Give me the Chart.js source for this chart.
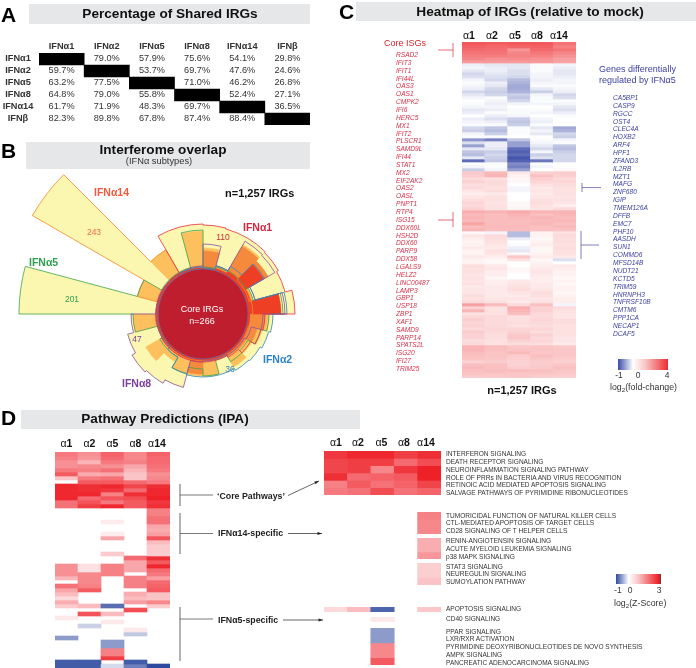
<!DOCTYPE html>
<html>
<head>
<meta charset="utf-8">
<title>IFN subtypes</title>
<script src="https://cdn.jsdelivr.net/npm/chart.js@4/dist/chart.umd.min.js"></script>
<style>
  html, body { margin: 0; padding: 0; background: #fff; }
  #page { position: relative; width: 696px; height: 668px; overflow: hidden; font-family: "Liberation Sans", Arial, sans-serif; color: #222; }
  #page canvas { position: absolute; }
  #page svg { position: absolute; left: 0; top: 0; }
  .t { position: absolute; white-space: nowrap; line-height: 1; }
  .bar { position: absolute; background: #e6e7e8; }
  .grad { position: absolute; }
  sub { font-size: 70%; line-height: 0; }
</style>
</head>
<body>
<div id="page">
  <div class="bar" style="left:29px;top:4px;width:281px;height:20px"></div>
  <div class="bar" style="left:26px;top:142px;width:284px;height:27px"></div>
  <div class="bar" style="left:356px;top:2px;width:340px;height:19px"></div>
  <div class="bar" style="left:21px;top:410px;width:339px;height:19px"></div>
  <div class="grad" style="left:618px;top:359px;width:50px;height:11px;background:linear-gradient(90deg,#3b4ba8 0%,#fff 30%,#f9c4c4 55%,#ee2b2f 100%)"></div>
  <div class="grad" style="left:616px;top:574px;width:45px;height:10px;background:linear-gradient(90deg,#2e4a9e 0%,#fff 28%,#f9c4c4 50%,#ee1c24 96%,#444 100%)"></div>
</div>
<script>
// --- A: shared IRGs ---
const subtypes = ["IFNα1", "IFNα2", "IFNα5", "IFNα8", "IFNα14", "IFNβ"];
const sharedPct = [
  [null, "79.0%", "57.9%", "75.6%", "54.1%", "29.8%"],
  ["59.7%", null, "53.7%", "69.7%", "47.6%", "24.6%"],
  ["63.2%", "77.5%", null, "71.0%", "46.2%", "26.8%"],
  ["64.8%", "79.0%", "55.8%", null, "52.4%", "27.1%"],
  ["61.7%", "71.9%", "48.3%", "69.7%", null, "36.5%"],
  ["82.3%", "89.8%", "67.8%", "87.4%", "88.4%", null]
];

// --- B: interferome overlap, radius per 15 degree sector, clockwise from top ---
const sectors = ["0", "15", "30", "45", "60", "75", "90", "105", "120", "135", "150", "165", "180", "195", "210", "225", "240", "255", "270", "285", "300", "315", "330", "345"];
const coreRadius = [45];
const coreRing = [45, 45, 45, 45, 45, 45, 45, 45, 45, 45, 45, 45, 45, 45, 45, 45, 45, 45, 45, 45, 45, 45, 45, 45];
const fourShared = [47, 47, 50, 70, 49, 78, 47, 47, 47, 47, 47, 47, 47, 47, 47, 47, 47, 47, 47, 47, 47, 47, 47, 47];
const threeShared = [63, 48, 78, 75, 50, 62, 62, 56, 50, 49, 47, 47, 60, 48, 48, 48, 47, 48, 47, 48, 47, 48, 47, 48];
const twoShared = [66, 50, 80, 75, 52, 75, 66, 61, 56, 61, 48, 62, 62, 62, 55, 66, 47, 70, 47, 68, 47, 74, 48, 83];
const oneOnly = [89, 88, 88, 87, 85, 92, 70, 68, 66, 65, 63, 63, 63, 76, 80, 82, 78, 72, 184, 68, 197, 74, 90, 90];
const outlineA1 = [89, 88, 88, 87, 85, 92, 62, 60, 55, 50, 48, 48, 48, 48, 48, 48, 47, 47, 47, 47, 47, 47, 90, 90];
const outlineA2 = [46, 50, 55, 71, 54, 84, 70, 68, 66, 65, 63, 63, 63, 62, 50, 47, 47, 47, 47, 47, 47, 47, 47, 47];
const outlineA5 = [47, 49, 50, 50, 52, 80, 66, 60, 52, 55, 48, 62, 55, 62, 50, 50, 47, 70, 184, 68, 48, 48, 48, 84];
const outlineA8 = [70, 50, 84, 83, 54, 82, 60, 50, 48, 48, 47, 47, 48, 76, 80, 82, 78, 72, 47, 47, 47, 47, 47, 48];
const outlineA14 = [47, 49, 50, 48, 48, 50, 48, 47, 47, 47, 47, 47, 47, 47, 47, 47, 47, 47, 47, 68, 197, 74, 48, 47];

// --- C: IRG heatmap, log2 fold-change, 5 columns ---
const coreIsgs = ["RSAD2", "IFIT3", "IFIT1", "IFI44L", "OAS3", "OAS1", "CMPK2", "IFI6", "HERC5", "MX1", "IFIT2", "PLSCR1", "SAMD9L", "IFI44", "STAT1", "MX2", "EIF2AK2", "OAS2", "OASL", "PNPT1", "RTP4", "ISG15", "DDX60L", "HSH2D", "DDX60", "PARP9", "DDX58", "LGALS9", "HELZ2", "LINC00487", "LAMP3", "GBP1", "USP18", "ZBP1", "XAF1", "SAMD9", "PARP14", "SPATS2L", "ISG20", "IFI27", "TRIM25"];
const a5Genes = ["CA5BP1", "CASP9", "RGCC", "OST4", "CLEC4A", "HOXB2", "ARF4", "HPF1", "ZFAND3", "IL2RB", "MZT1", "MAFG", "ZNF680", "IGIP", "TMEM126A", "DFFB", "EMC7", "PHF10", "AASDH", "SUN1", "COMMD6", "MFSD14B", "NUDT21", "KCTD5", "TRIM59", "HNRNPH3", "TNFRSF10B", "CMTM6", "PPP1CA", "NECAP1", "DCAF5"];
const irgRows = [
  [2.9,2.8,2.9,2.9,2.3],[2.7,2.5,2.6,2.7,2.0],[2.5,2.4,1.6,2.5,2.3],[2.3,2.3,1.9,2.2,1.9],[2.1,2.1,2.0,2.0,1.7],[1.9,1.7,1.8,1.7,1.4],[1.5,1.5,1.5,1.5,1.3],
  [-.15,-.2,-.2,-.05,-.1],[-.1,-.15,-.2,-.05,-.15],[-.2,-.15,-.25,-.05,-.2],[-.3,-.2,-.25,-.1,-.2],[-.25,-.25,-.3,-.1,-.15],[-.1,-.3,-.45,-.15,-.1],[-.05,-.15,-.5,-.1,-.1],[-.1,-.2,-.55,-.05,-.05],
  [-.15,-.3,-.55,-.2,-.1],[-.3,-.35,-.5,-.35,-.15],[-.2,-.3,-.35,-.1,-.3],[-.1,-.05,-.4,-.05,-.25],[0,-.1,-.3,-.05,-.05],[-.05,-.15,-.1,-.1,-.1],[-.1,-.1,0,0,-.2],[-.2,-.15,-.05,-.05,-.25],
  [-.15,-.05,-.05,-.1,-.15],[0,-.15,-.1,0,-.05],[-.15,-.25,-.35,-.1,0],[-.1,-.15,-.4,-.15,0],[-.05,-.05,-.35,-.05,0],[-.3,-.4,-.05,-.2,-.55],[-.35,-.45,-.05,-.1,-.5],[-.1,-.35,-.05,-.2,-.3],
  [-.05,-.05,0,0,-.35],[-.65,-.75,-.4,-.05,-.1],[-.25,-.15,-.6,-.1,-.05],[-.6,-.15,-.6,-.2,-.4],[-.2,-.2,-.85,-.3,-.45],[-.4,-.35,-.9,-.1,-.35],[-.45,-.3,-.85,-.35,-.3],[-.2,-.35,-.95,-.25,-.3],
  [-.85,-.4,-.9,-.8,-.3],[0,-.05,-.7,-.05,0],[-.1,-.05,-.75,-.1,0],[-.35,-.1,-.6,0,.05],
  [.65,.9,.2,.5,.6],[.6,1.0,.1,.8,.55],[.4,.3,.05,.55,.4],[.5,.4,.05,.45,.45],[.35,.35,0,.3,.35],[.4,.3,-.1,.2,.3],[.25,.35,-.1,.25,.3],[.15,.2,0,.2,.3],[.25,.3,0,.25,.25],[.35,.3,0,.3,.3],[.45,.25,.05,.35,.25],[.4,.3,.05,.3,.15],[.5,.3,.1,.25,.4],
  [1.1,1.0,1.2,1.0,1.0],[.9,.85,1.0,.8,.95],[1.0,.85,.9,1.0,.85],[.9,.85,.85,.9,.95],[1.3,.85,.85,.95,.8],[.85,.9,.9,.8,.9],[1.0,.85,.85,.8,.75],
  [.05,-.1,-.45,.1,.3],[.25,.4,-.45,.1,.4],[.15,.35,-.15,.05,.35],[.1,.3,0,.1,.35],[.1,.25,-.05,.15,.3],[.2,.2,-.15,.05,.35],[.1,.3,-.2,.05,.3],[.1,.25,.05,.1,.3],[.2,.15,.7,.15,.2],[.1,.05,.3,.05,-.25],[.1,.05,0,.1,0],
  [.35,.2,0,.15,.2],[.3,.25,.05,.2,.15],[.3,.15,.05,.25,.1],[.25,.15,0,.2,.1],[.3,.05,0,.15,.05],[.25,.15,.2,.15,.1],[.3,.15,.25,.2,.05],[.2,.2,.3,.2,.1],[.25,.2,.35,.25,.1],[.25,.2,.25,.35,.05],[.35,.2,.2,.3,.1],[.3,.25,.25,.25,.15],[.4,.3,.2,.3,.15],
  [1.4,.9,.4,.8,-.1],[.5,.3,1.1,.5,.4],[1.0,.3,1.0,.5,.3],[.3,.3,.8,.4,.25],[.45,.4,.3,.4,.25],[.55,.4,.3,.45,.35],[.45,.4,.35,.4,.35],[.5,.4,.3,.35,.3],[.4,.45,.45,.45,.3],[.6,.4,.5,.35,.3],[.5,.35,.65,.5,.3],[.5,.35,.7,.4,.25],[.35,.3,.5,.45,.25],[.4,.3,.35,.35,.2],
  [1.0,.85,.7,.75,.65],[1.0,.8,.75,.75,.7],[.85,.75,.9,.7,.7],[.8,.75,.6,.8,.7],[.75,.7,.55,.7,.6],[.5,.6,.5,.6,.55],[.8,.8,.5,.6,.7],[.9,.8,.6,.65,.8],[.8,.85,.85,.8,.7],[.75,.75,.7,.7,.65],[.6,.65,.7,.6,.55]
];

// --- D: pathway predictions, Z-score ---
const n = null;
const pathwayRows = [
  [1.8,1.5,2.1,1.6,2.1],[1.7,1.4,2.0,1.6,2.0],[1.5,1.0,1.8,1.7,2.0],[1.5,1.6,1.5,1.2,1.9],[1.8,1.7,1.9,1.0,1.8],[2.2,1.1,1.2,.8,1.5],[.8,1.8,1.9,.8,1.6],[n,2.2,2.2,2.0,1.8],
  [2.9,2.8,2.9,2.5,2.8],[2.9,2.8,2.7,2.0,2.9],[2.9,2.9,1.7,2.8,2.9],[2.9,2.0,2.3,2.4,3.0],[1.9,2.3,1.8,2.2,2.7],[1.9,2.6,2.9,2.2,2.8],
  [n,n,n,n,1.7],[n,n,n,n,1.7],[n,n,n,n,1.9],[n,n,.25,n,1.9],[n,n,n,n,1.2],[n,n,n,n,1.1],[n,n,.25,n,1.3],[n,n,1.2,n,2.3],[n,n,n,n,.9],[n,n,n,n,.7],[n,n,n,n,.7],[n,n,.7,n,.7],
  [n,n,n,2.0,2.8],[n,n,n,1.2,2.2],[1.5,.4,1.7,1.2,2.9],[1.5,.4,1.7,1.2,2.0],[1.5,1.6,1.7,n,1.8],[1.0,1.6,n,1.7,1.3],[n,1.6,n,1.7,2.0],[1.9,1.7,n,1.7,2.1],[1.2,2.2,n,n,2.2],[.9,n,n,1.1,.8],[.5,n,n,.9,.8],[1.1,n,n,1.3,1.6],
  [.7,.9,-.8,n,.7],[n,n,n,2.4,n],[n,2.3,.9,n,n],[.3,n,n,n,n],[n,n,.3,n,n],[n,-.25,n,n,n],[n,n,n,.3,n],[n,n,n,-.3,n],[-.55,n,n,n,n],[n,n,-.55,n,n],[n,n,-.55,n,n],[n,n,1.7,n,n],[n,n,1.7,n,n],[n,n,2.6,n,n],[-.9,-.9,n,-.9,n],[-.9,-.9,-.2,-.7,-1]
];
const corePathways = ["INTERFERON SIGNALING", "DEATH RECEPTOR SIGNALING", "NEUROINFLAMMATION SIGNALING PATHWAY", "ROLE OF PRRs IN BACTERIA AND VIRUS RECOGNITION", "RETINOIC ACID MEDIATED APOPTOSIS SIGNALING", "SALVAGE PATHWAYS OF PYRIMIDINE RIBONUCLEOTIDES"];
const coreZ = [[2.7,2.9,2.9,2.6,2.8],[2.5,2.6,2.6,2.0,2.4],[2.5,2.6,1.6,2.7,3.0],[2.8,2.0,2.1,2.2,3.0],[1.7,2.2,1.9,2.1,2.5],[1.8,1.9,2.4,1.9,2.1]];
const a14PathwaysA = ["TUMORICIDAL FUNCTION OF NATURAL KILLER CELLS", "CTL-MEDIATED APOPTOSIS OF TARGET CELLS", "CD28 SIGNALING OF T HELPER CELLS"];
const a14ZA = [[n,n,n,n,1.7],[n,n,n,n,1.6],[n,n,n,n,1.6]];
const a14PathwaysB = ["RENIN-ANGIOTENSIN SIGNALING", "ACUTE MYELOID LEUKEMIA SIGNALING", "p38 MAPK SIGNALING"];
const a14ZB = [[n,n,n,n,1.1],[n,n,n,n,1.1],[n,n,n,n,1.4]];
const a14PathwaysC = ["STAT3 SIGNALING", "NEUREGULIN SIGNALING", "SUMOYLATION PATHWAY"];
const a14ZC = [[n,n,n,n,.65],[n,n,n,n,.65],[n,n,n,n,.8]];
const apoptosisZ = [[.5,.9,-.85,n,.75]];
const cd40Z = [[n,n,.3,n,n]];
const a5Pathways = ["PPAR SIGNALING", "LXR/RXR ACTIVATION", "PYRIMIDINE DEOXYRIBONUCLEOTIDES DE NOVO SYNTHESIS", "AMPK SIGNALING", "PANCREATIC ADENOCARCINOMA SIGNALING"];
const a5Z = [[n,n,-.55,n,n],[n,n,-.55,n,n],[n,n,1.6,n,n],[n,n,1.6,n,n],[n,n,2.2,n,n]];
const columns = ["α1", "α2", "α5", "α8", "α14"];

Chart.defaults.animation = false;
Chart.defaults.responsive = false;
const page = document.getElementById("page");

// text helper, x/y is the anchor, vertically centred
function label(html, x, y, o) {
  o = o || {};
  const el = document.createElement("span");
  el.className = "t";
  el.innerHTML = html;
  const ax = o.align === "center" ? "-50%" : o.align === "right" ? "-100%" : "0";
  el.style.cssText = `left:${x}px;top:${y}px;transform:translate(${ax},-50%);font-size:${o.size || 9}px;` +
    `font-weight:${o.bold ? 700 : 400};font-style:${o.italic ? "italic" : "normal"};color:${o.color || "#222"};` +
    `letter-spacing:${o.spacing || 0}px;z-index:5`;
  page.appendChild(el);
  return el;
}
function addCanvas(left, top, width, height) {
  const c = document.createElement("canvas");
  c.width = width; c.height = height;
  c.style.left = left + "px"; c.style.top = top + "px";
  page.appendChild(c);
  return c;
}
function mix(from, to, f) {
  f = Math.max(0, Math.min(1, f));
  return "rgb(" + from.map((v, i) => Math.round(v + (to[i] - v) * f)).join(",") + ")";
}
const WHITE = [255, 255, 255];
function fcColor(v) {
  if (v === null) return "rgba(0,0,0,0)";
  return v < 0 ? mix(WHITE, [59, 75, 168], Math.pow(-v, 1.25)) : mix(WHITE, [238, 43, 47], Math.pow(v / 4, 0.75));
}
function zColor(v) {
  if (v === null) return "rgba(0,0,0,0)";
  return v < 0 ? mix(WHITE, [46, 74, 158], -v) : mix(WHITE, [238, 32, 40], v / 3);
}

// stacked bars, one dataset per row, cells coloured by value
function heatmap(rows, colorFn, left, top, width, height, blur) {
  const canvas = addCanvas(left, top, width, height);
  if (blur) canvas.style.filter = `blur(${blur}px)`;
  new Chart(canvas, {
    type: "bar",
    data: {
      labels: rows[0].map((_, i) => i),
      datasets: rows.map(r => ({ data: r.map(() => 1), backgroundColor: r.map(colorFn), barPercentage: 1, categoryPercentage: 1, borderWidth: 0, stack: "s" }))
    },
    options: {
      layout: { padding: 0 },
      plugins: { legend: { display: false }, tooltip: { enabled: false } },
      scales: {
        x: { display: false, stacked: true },
        y: { display: false, stacked: true, reverse: true, min: 0, max: rows.length }
      }
    }
  });
}

// --- A ---
label("Percentage of Shared IRGs", 170, 14, { size: 13.6, bold: true, align: "center", color: "#111" });
label("A", 1, 14, { size: 21, bold: true, color: "#000" });
const tableX = 39, tableY = 53, cellW = 45.17, cellH = 12;
subtypes.forEach((name, i) => {
  label(name, tableX + cellW * (i + 0.5), 47, { size: 9.2, bold: true, align: "center", color: "#333" });
  label(name, 18, tableY + cellH * (i + 0.5), { size: 9.2, bold: true, align: "center", color: "#333" });
});
sharedPct.forEach((row, r) => row.forEach((txt, c) => {
  if (txt) label(txt, tableX + cellW * (c + 0.5), tableY + cellH * (r + 0.5), { size: 9.2, align: "center", color: "#333" });
}));
heatmap(sharedPct, v => v === null ? "#000" : "rgba(0,0,0,0)", tableX, tableY, 271, 72);

// --- B ---
label("B", 1, 150, { size: 21, bold: true, color: "#000" });
label("Interferome overlap", 163, 150, { size: 13.6, bold: true, align: "center", color: "#111" });
label("(IFNα subtypes)", 159, 162, { size: 9.3, align: "center", color: "#333" });

const outlines = [
  [outlineA14, "#f58a34"], [outlineA5, "#3fa652"], [outlineA8, "#8c51a5"], [outlineA2, "#2f86c6"], [outlineA1, "#e8304a"], [coreRing, "#5d6db0"]
];
const outlinePlugin = {
  id: "outlines",
  afterDatasetsDraw(chart) {
    const scale = chart.scales.r, ctx = chart.ctx, step = 2 * Math.PI / sectors.length;
    ctx.save();
    ctx.lineWidth = 0.8;
    outlines.forEach(([vals, color]) => {
      ctx.strokeStyle = color;
      ctx.beginPath();
      vals.forEach((v, i) => {
        const a = i * step - Math.PI / 2;
        ctx.arc(scale.xCenter, scale.yCenter, scale.getDistanceFromCenterForValue(v), a, a + step);
      });
      ctx.closePath();
      ctx.stroke();
    });
    ctx.restore();
  }
};
function layer(values, color) {
  return { data: values, backgroundColor: color, borderColor: color, borderWidth: 0.6 };
}
new Chart(addCanvas(203 - 215, 314 - 215, 430, 430), {
  type: "polarArea",
  data: {
    labels: sectors,
    datasets: [
      { data: coreRadius, backgroundColor: "#be1e2d", borderWidth: 0 },
      layer(fourShared, "#ee3e24"),
      layer(threeShared, "#f58a3c"),
      layer(twoShared, "#fdc05c"),
      layer(oneOnly, "#fbf6b0")
    ]
  },
  options: {
    layout: { padding: 0 },
    plugins: { legend: { display: false }, tooltip: { enabled: false } },
    scales: { r: { display: false, min: 0, max: 215 } }
  },
  plugins: [outlinePlugin]
});
label("IFNα14", 94, 192, { size: 10.5, bold: true, color: "#f15a3c" });
label("243", 94, 232, { size: 8.5, align: "center", color: "#f26b4a" });
label("IFNα5", 29, 262, { size: 10.5, bold: true, color: "#2e9e4f" });
label("201", 72, 299, { size: 8.5, align: "center", color: "#2e9e4f" });
label("IFNα1", 243, 227, { size: 10.5, bold: true, color: "#d7263d" });
label("110", 223, 237, { size: 8.5, align: "center", color: "#c8323c" });
label("IFNα2", 263, 359, { size: 10.5, bold: true, color: "#2b83c6" });
label("36", 230, 369, { size: 8.5, align: "center", color: "#2b83c6" });
label("IFNα8", 122, 383, { size: 10.5, bold: true, color: "#7b3f98" });
label("47", 137, 339, { size: 8.5, align: "center", color: "#7b3f98" });
label("n=1,257 IRGs", 225, 193, { size: 11, bold: true, color: "#111" });
label("Core IRGs", 202, 309, { size: 9, align: "center", color: "#fff" });
label("n=266", 202, 321, { size: 9, align: "center", color: "#fff" });

// --- C ---
function colHeads(centres, y) {
  columns.forEach((c, i) => label(`<span style="font-weight:400">α</span>${c.slice(1)}`, centres[i], y, { size: 10.5, bold: true, align: "center", color: "#111" }));
}
label("C", 339, 11, { size: 21, bold: true, color: "#000" });
label("Heatmap of IRGs (relative to mock)", 530, 12, { size: 13.7, bold: true, align: "center", color: "#111" });
colHeads([469, 492, 515, 537, 559], 35);
heatmap(irgRows, fcColor, 462, 42, 114, 336, 0.5);
label("Core ISGs", 384, 43, { size: 9, color: "#d2232a" });
coreIsgs.forEach((g, i) => label(g, 396, 55 + i * 7.85, { size: 6.6, italic: true, color: "#d9304a" }));
label("Genes differentially", 599, 68.5, { size: 9, color: "#3b3f9e" });
label("regulated by IFNα5", 599, 79.5, { size: 9, color: "#3b3f9e" });
a5Genes.forEach((g, i) => label(g, 613, 98 + i * 7.86, { size: 6.6, italic: true, color: "#3b3f9e" }));
label("-1", 619, 375, { size: 8.5, align: "center", color: "#333" });
label("0", 638, 375, { size: 8.5, align: "center", color: "#333" });
label("4", 667, 375, { size: 8.5, align: "center", color: "#333" });
label("log<sub>2</sub>(fold-change)", 610, 387, { size: 8.8, color: "#333" });
label("n=1,257 IRGs", 522, 390, { size: 11, bold: true, align: "center", color: "#111" });

// --- D ---
label("D", 1, 417, { size: 21, bold: true, color: "#000" });
label("Pathway Predictions (IPA)", 165, 419, { size: 13.6, bold: true, align: "center", color: "#111" });
colHeads([66.5, 89.5, 112.5, 135.5, 157], 443);
colHeads([336, 358, 381.5, 404, 426], 441.5);
heatmap(pathwayRows, zColor, 55, 452, 115, 216);
heatmap(coreZ, zColor, 324, 451, 117, 44);
heatmap(a14ZA, zColor, 324, 512, 117, 22);
heatmap(a14ZB, zColor, 324, 538, 117, 21);
heatmap(a14ZC, zColor, 324, 563, 117, 22);
heatmap(apoptosisZ, zColor, 324, 607, 117, 5);
heatmap(cd40Z, zColor, 324, 617, 117, 5);
heatmap(a5Z, zColor, 324, 628, 117, 37);
function pathwayLabels(names, startY) {
  names.forEach((p, i) => label(p, 446, startY + i * 7.85, { size: 6.55, color: "#333" }));
}
pathwayLabels(corePathways, 454);
pathwayLabels(a14PathwaysA, 515.5);
pathwayLabels(a14PathwaysB, 541);
pathwayLabels(a14PathwaysC, 566.5);
pathwayLabels(["APOPTOSIS SIGNALING"], 609);
pathwayLabels(["CD40 SIGNALING"], 618.5);
pathwayLabels(a5Pathways, 631.5);
label("‘Core Pathways’", 217, 495.5, { size: 8.8, bold: true, color: "#222" });
label("IFNα14-specific", 218, 533, { size: 8.8, bold: true, color: "#222" });
label("IFNα5-specific", 218, 619.5, { size: 8.8, bold: true, color: "#222" });
label("-1", 618, 590, { size: 8.5, align: "center", color: "#333" });
label("0", 630, 590, { size: 8.5, align: "center", color: "#333" });
label("3", 659, 590, { size: 8.5, align: "center", color: "#333" });
label("log<sub>2</sub>(Z-Score)", 614, 603, { size: 8.8, color: "#333" });

// brackets and arrows
const svgNs = "http://www.w3.org/2000/svg";
const svg = document.createElementNS(svgNs, "svg");
svg.setAttribute("width", 696); svg.setAttribute("height", 668);
svg.style.zIndex = 4;
page.appendChild(svg);
function seg(x1, y1, x2, y2, color, w) {
  const l = document.createElementNS(svgNs, "line");
  [["x1", x1], ["y1", y1], ["x2", x2], ["y2", y2], ["stroke", color], ["stroke-width", w || 0.8]].forEach(a => l.setAttribute(a[0], a[1]));
  svg.appendChild(l);
}
function arrow(x1, y1, x2, y2) {
  seg(x1, y1, x2, y2, "#222", 0.7);
  const a = Math.atan2(y2 - y1, x2 - x1), s = 4.5, h = 1.6;
  const bx = x2 - s * Math.cos(a), by = y2 - s * Math.sin(a);
  const p = document.createElementNS(svgNs, "polygon");
  p.setAttribute("points", `${x2},${y2} ${bx - h * Math.sin(a)},${by + h * Math.cos(a)} ${bx + h * Math.sin(a)},${by - h * Math.cos(a)}`);
  p.setAttribute("fill", "#222");
  svg.appendChild(p);
}
seg(438, 50, 453, 50, "#e0485a"); seg(453, 43, 453, 57, "#e0485a");
seg(438, 220, 453, 220, "#e0485a"); seg(453, 212, 453, 227, "#e0485a");
seg(582, 187.6, 601, 187.6, "#5a5fb0"); seg(582, 183, 582, 192, "#5a5fb0");
seg(581, 245, 599, 245, "#5a5fb0"); seg(581, 231, 581, 259, "#5a5fb0");
seg(180, 484, 180, 506, "#666", 1); seg(180, 495, 213, 495, "#555", 0.8);
seg(180, 513, 180, 554, "#666", 1); seg(180, 533.5, 213, 533.5, "#555", 0.8);
seg(180, 607, 180, 661, "#666", 1); seg(180, 619, 213, 619, "#555", 0.8);
arrow(288, 495.5, 319, 481);
arrow(288, 533.5, 322, 533.5);
arrow(283, 620, 323, 620);
</script>
</body>
</html>
